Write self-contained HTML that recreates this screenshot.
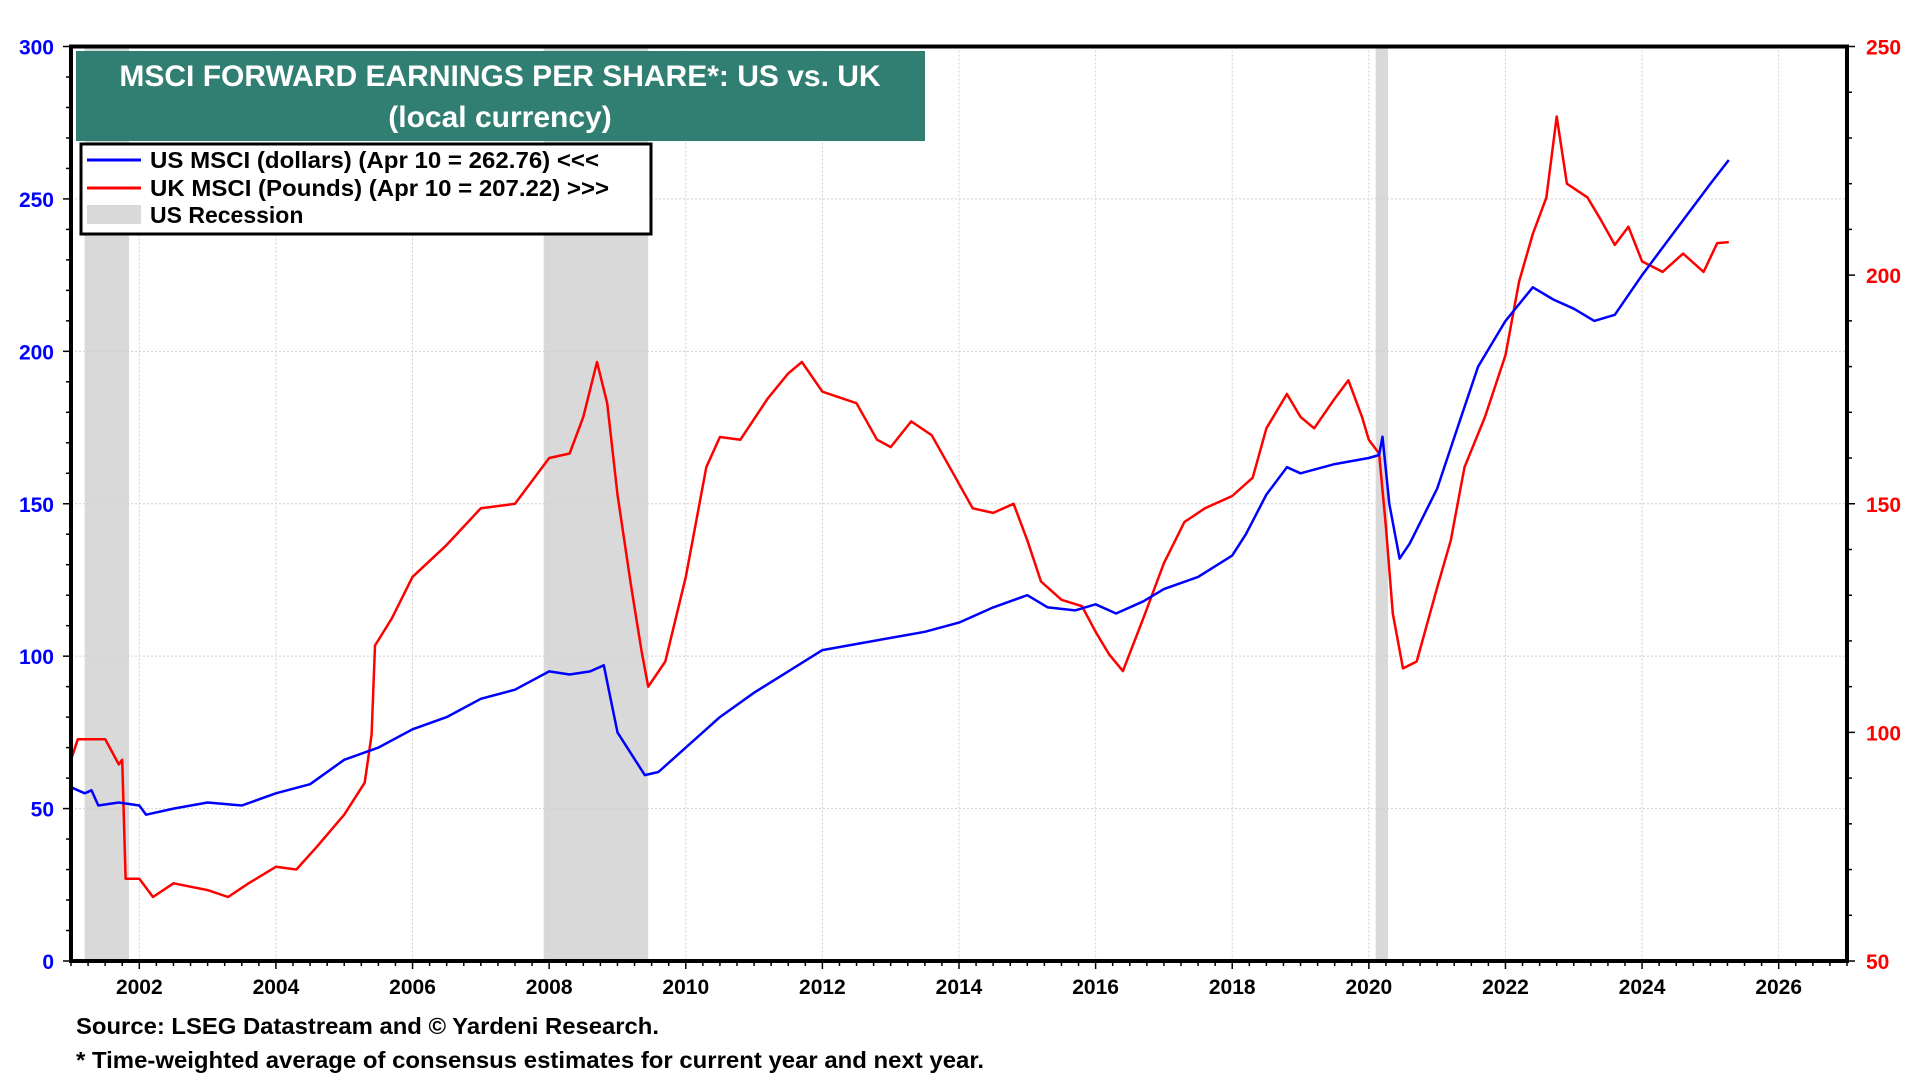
<!DOCTYPE html>
<html><head><meta charset="utf-8"><style>
html,body{margin:0;padding:0;background:#fff;}
svg{display:block;font-family:"Liberation Sans Narrow","Liberation Sans",Arial,sans-serif;font-weight:bold;}
</style></head><body>
<svg id="chart" width="1920" height="1080" viewBox="0 0 1920 1080" xmlns="http://www.w3.org/2000/svg">
<g id="recessions"></g>
<g id="grid"></g>
<g id="series"></g>
<g id="axes"></g>
<rect x="76" y="51" width="849" height="90" fill="#317f72"/>
<text x="500" y="86" text-anchor="middle" fill="#fff" font-size="30">MSCI FORWARD EARNINGS PER SHARE*: US vs. UK</text>
<text x="500" y="127" text-anchor="middle" fill="#fff" font-size="30">(local currency)</text>
<g>
<rect x="81" y="144" width="570" height="90" fill="#fff" stroke="#000" stroke-width="3"/>
<line x1="87" y1="160" x2="141" y2="160" stroke="#0000ff" stroke-width="3"/>
<text x="150" y="168" font-size="23" textLength="449" lengthAdjust="spacingAndGlyphs">US MSCI (dollars) (Apr 10 = 262.76) &lt;&lt;&lt;</text>
<line x1="87" y1="188" x2="141" y2="188" stroke="#ff0000" stroke-width="3"/>
<text x="150" y="196" font-size="23" textLength="459" lengthAdjust="spacingAndGlyphs">UK MSCI (Pounds) (Apr 10 = 207.22) &gt;&gt;&gt;</text>
<rect x="87" y="205" width="54" height="19" fill="#d9d9d9"/>
<text x="150" y="223" font-size="23">US Recession</text>
</g>
<text x="76" y="1034" font-size="23" textLength="583" lengthAdjust="spacingAndGlyphs">Source: LSEG Datastream and © Yardeni Research.</text>
<text x="76" y="1068" font-size="23" textLength="908" lengthAdjust="spacingAndGlyphs">* Time-weighted average of consensus estimates for current year and next year.</text>
</svg>
<script>
const usYears=[2001.0,2001.2,2001.3,2001.4,2001.7,2002.0,2002.1,2002.5,2003.0,2003.5,2004.0,2004.5,2005.0,2005.5,2006.0,2006.5,2007.0,2007.5,2008.0,2008.3,2008.6,2008.8,2008.9,2009.0,2009.2,2009.4,2009.6,2010.0,2010.5,2011.0,2011.5,2012.0,2012.5,2013.0,2013.5,2014.0,2014.5,2015.0,2015.3,2015.7,2016.0,2016.3,2016.7,2017.0,2017.5,2018.0,2018.2,2018.5,2018.8,2019.0,2019.5,2020.0,2020.15,2020.2,2020.3,2020.45,2020.6,2021.0,2021.3,2021.6,2022.0,2022.4,2022.7,2023.0,2023.3,2023.6,2024.0,2024.5,2025.0,2025.27];
const usValues=[57,55,56,51,52,51,48,50,52,51,55,58,66,70,76,80,86,89,95,94,95,97,86,75,68,61,62,70,80,88,95,102,104,106,108,111,116,120,116,115,117,114,118,122,126,133,140,153,162,160,163,165,166,172,150,132,137,155,175,195,210,221,217,214,210,212,225,240,255,262.76];
const ukYears=[2001.0,2001.1,2001.5,2001.7,2001.75,2001.8,2002.0,2002.2,2002.5,2003.0,2003.3,2003.6,2004.0,2004.3,2004.6,2005.0,2005.3,2005.4,2005.45,2005.7,2006.0,2006.5,2007.0,2007.5,2008.0,2008.3,2008.5,2008.7,2008.85,2009.0,2009.2,2009.35,2009.45,2009.7,2010.0,2010.3,2010.5,2010.8,2011.2,2011.5,2011.7,2012.0,2012.5,2012.8,2013.0,2013.3,2013.6,2013.9,2014.2,2014.5,2014.8,2015.0,2015.2,2015.5,2015.8,2016.0,2016.2,2016.4,2016.7,2017.0,2017.3,2017.6,2018.0,2018.3,2018.5,2018.8,2019.0,2019.2,2019.5,2019.7,2019.9,2020.0,2020.15,2020.25,2020.35,2020.5,2020.7,2021.0,2021.2,2021.4,2021.7,2022.0,2022.2,2022.4,2022.6,2022.75,2022.9,2023.2,2023.4,2023.6,2023.8,2024.0,2024.3,2024.6,2024.9,2025.1,2025.27];
const ukValues=[94,98.5,98.5,93,94,68,68,64,67,65.5,64,67,70.6,70,75,82,89,99.5,119,125,134,141,149,150,160,161,169,181,172,152,132,118,110,115.5,134,158,164.6,164,173,178.5,181,174.5,172,164,162.4,168,165,157,149,148,150,142,133,129,127.6,122,117,113.4,125,137,146,149,151.7,155.7,166.5,174,169,166.5,173,177,169,164,161,145,126,114,115.5,131.7,142,158,169,182.5,198.6,209,217,234.7,220,217,212,206.6,210.6,203,200.7,204.7,200.7,207,207.22];
const recStarts=[2001.2,2007.92,2020.1];
const recEnds=[2001.85,2009.45,2020.28];
const leftTicks=[0,50,100,150,200,250,300];
const rightTicks=[50,100,150,200,250];
const xTicks=[2002,2004,2006,2008,2010,2012,2014,2016,2018,2020,2022,2024,2026];

const NS='http://www.w3.org/2000/svg';
const L=71,R=1847,T=46.5,B=961;
const x=y=>L+(y-2001)/(2027-2001)*(R-L);
const yL=v=>B-v/300*(B-T);
const yR=v=>B-(v-50)/200*(B-T);
function mk(tag,attrs,parent){const e=document.createElementNS(NS,tag);for(const k in attrs)e.setAttribute(k,attrs[k]);parent.appendChild(e);return e;}
const gRec=document.getElementById('recessions'),gGrid=document.getElementById('grid'),gS=document.getElementById('series'),gA=document.getElementById('axes');
recStarts.forEach((s,i)=>{const r=mk('rect',{x:x(s),y:T,width:x(recEnds[i])-x(s),height:B-T,fill:'#d9d9d9'},gRec);

});
leftTicks.forEach(v=>{if(v>0&&v<300){const l=mk('line',{x1:L,x2:R,y1:yL(v),y2:yL(v),stroke:'#cfcfcf','stroke-dasharray':'2,2'},gGrid);

}});
xTicks.forEach(v=>{const l=mk('line',{x1:x(v),x2:x(v),y1:T,y2:B,stroke:'#cfcfcf','stroke-dasharray':'2,2'},gGrid);

});
function path(xs,vs,fy,color,name){let d='';xs.forEach((yr,i)=>{d+=(i?'L':'M')+x(yr).toFixed(1)+','+fy(vs[i]).toFixed(1);});
const p=mk('path',{d:d,fill:'none',stroke:color,'stroke-width':2.5,'stroke-linejoin':'round'},gS);

}
path(ukYears,ukValues,yR,'#ff0000','uk-msci-line');
path(usYears,usValues,yL,'#0000ff','us-msci-line');
const fr=mk('rect',{x:L,y:T,width:R-L,height:B-T,fill:'none',stroke:'#000','stroke-width':4},gA);


for(let v=0;v<=300;v+=10){mk('line',{x1:L-(v%50?5:8),x2:L,y1:yL(v),y2:yL(v),stroke:'#000','stroke-width':1.5},gA);}
for(let v=50;v<=250;v+=10){mk('line',{x1:R,x2:R+(v%50?5:8),y1:yR(v),y2:yR(v),stroke:'#000','stroke-width':1.5},gA);}
for(let q=2001;q<=2027;q+=0.25){mk('line',{x1:x(q),x2:x(q),y1:B,y2:B+(Number.isInteger(q)&&q%2==0?8:5),stroke:'#000','stroke-width':1.5},gA);}
leftTicks.forEach(v=>{const t=mk('text',{x:54,y:yL(v)+8,'text-anchor':'end','font-size':21,fill:'#0000ff'},gA);t.textContent=v;

});
rightTicks.forEach(v=>{const t=mk('text',{x:1866,y:yR(v)+8,'font-size':21,fill:'#ff0000'},gA);t.textContent=v;

});
xTicks.forEach(v=>{const t=mk('text',{x:x(v),y:994,'text-anchor':'middle','font-size':21,fill:'#000'},gA);t.textContent=v;

});
</script>
</body></html>
